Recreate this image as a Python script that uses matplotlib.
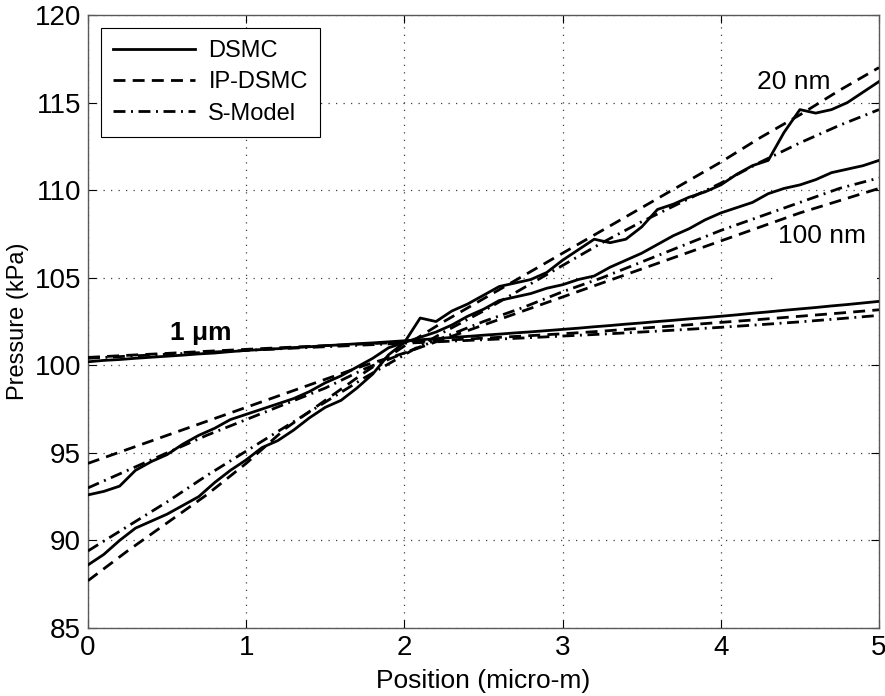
"""
Pressure along the channel: DSMC vs IP-DSMC vs S-Model for three channel heights.
"""
import matplotlib
matplotlib.use("Agg")
import matplotlib.pyplot as plt
import numpy as np
from matplotlib.patches import Rectangle

plt.rcParams['font.family'] = ['Liberation Sans', 'DejaVu Sans']

# DSMC profiles sampled every 0.1 micro-m
x_dsmc = np.linspace(0, 5, 51)
dsmc_20nm = [88.6, 89.2, 90.0, 90.7, 91.1, 91.5, 92.0, 92.5, 93.3, 94.0,
             94.6, 95.3, 95.7, 96.3, 97.0, 97.6, 98.0, 98.7, 99.5, 100.6,
             101.3, 102.7, 102.5, 103.1, 103.5, 104.0, 104.5, 104.7, 104.9, 105.3,
             106.0, 106.6, 107.2, 107.0, 107.2, 107.9, 108.9, 109.2, 109.6, 109.9,
             110.3, 110.9, 111.4, 111.7, 113.3, 114.6, 114.4, 114.6, 115.0, 115.6,
             116.2]
dsmc_100nm = [92.6, 92.8, 93.1, 94.0, 94.5, 94.9, 95.5, 96.0, 96.4, 96.9,
              97.2, 97.5, 97.8, 98.1, 98.5, 99.0, 99.4, 99.9, 100.4, 101.0,
              101.3, 101.6, 101.9, 102.3, 102.8, 103.2, 103.7, 103.9, 104.1, 104.4,
              104.6, 104.9, 105.1, 105.6, 106.0, 106.4, 106.9, 107.4, 107.8, 108.3,
              108.7, 109.0, 109.3, 109.8, 110.1, 110.3, 110.6, 111.0, 111.2, 111.4,
              111.7]
dsmc_1um = [100.20, 100.28, 100.33, 100.40, 100.46, 100.52, 100.58, 100.65, 100.70, 100.78,
            100.85, 100.90, 100.95, 101.01, 101.06, 101.12, 101.17, 101.23, 101.28, 101.34,
            101.40, 101.46, 101.52, 101.59, 101.65, 101.72, 101.78, 101.85, 101.91, 101.98,
            102.05, 102.12, 102.20, 102.27, 102.35, 102.42, 102.50, 102.57, 102.65, 102.72,
            102.80, 102.88, 102.97, 103.05, 103.14, 103.22, 103.30, 103.39, 103.47, 103.56,
            103.65]

# model profiles sampled every 0.25 micro-m
x_model = np.linspace(0, 5, 21)
ip_20nm = [87.7, 89.4, 91.0, 92.6, 94.4, 96.4, 98.0, 99.6, 101.1, 102.5,
           103.8, 105.1, 106.4, 107.7, 109.0, 110.3, 111.6, 113.0, 114.3, 115.7,
           117.0]
ip_100nm = [94.4, 95.2, 96.0, 96.8, 97.6, 98.4, 99.2, 100.0, 100.7, 101.5,
            102.3, 103.1, 103.9, 104.7, 105.5, 106.3, 107.1, 107.9, 108.7, 109.4,
            110.1]
ip_1um = [100.45, 100.57, 100.68, 100.80, 100.91, 101.02, 101.12, 101.22, 101.32, 101.43,
          101.55, 101.67, 101.80, 101.95, 102.12, 102.28, 102.45, 102.62, 102.80, 102.98,
          103.17]
s_20nm = [89.4, 90.8, 92.2, 93.7, 95.1, 96.5, 97.9, 99.3, 100.6, 101.9,
          103.1, 104.4, 105.7, 107.0, 108.2, 109.3, 110.4, 111.6, 112.7, 113.7,
          114.6]
s_100nm = [93.0, 94.0, 95.0, 96.0, 96.9, 97.8, 98.7, 99.8, 100.7, 101.6,
           102.5, 103.3, 104.2, 105.0, 105.9, 106.8, 107.7, 108.5, 109.3, 110.1,
           110.7]
s_1um = [100.40, 100.52, 100.63, 100.74, 100.85, 100.96, 101.06, 101.16, 101.26, 101.36,
         101.46, 101.56, 101.67, 101.78, 101.90, 102.03, 102.17, 102.32, 102.48, 102.66,
         102.85]

labels = ['DSMC', 'IP-DSMC', 'S-Model']
x_ticks = [0, 1, 2, 3, 4, 5]
y_ticks = [85, 90, 95, 100, 105, 110, 115, 120]

lw = 2.0
dash = (0, (4.3, 2.6))
dashdot = (0, (4.3, 2.0, 0.7, 2.0))

fig = plt.figure(figsize=(8.85, 6.96), dpi=100)
ax = fig.add_axes([0.0994, 0.0977, 0.8938, 0.8807])

# white patch below the "100 nm" note hides part of the grid
ax.add_patch(Rectangle((4.36, 104.2), 0.63, 2.7, facecolor='white',
                       edgecolor='none', zorder=1.5))

h1, = ax.plot(x_dsmc, dsmc_20nm, color='black', lw=lw, ls='-', zorder=3)
ax.plot(x_dsmc, dsmc_100nm, color='black', lw=lw, ls='-', zorder=3)
ax.plot(x_dsmc, dsmc_1um, color='black', lw=lw, ls='-', zorder=3)
h2, = ax.plot(x_model, ip_20nm, color='black', lw=lw, ls=dash, zorder=3)
ax.plot(x_model, ip_100nm, color='black', lw=lw, ls=dash, zorder=3)
ax.plot(x_model, ip_1um, color='black', lw=lw, ls=dash, zorder=3)
h3, = ax.plot(x_model, s_20nm, color='black', lw=lw, ls=dashdot, zorder=3)
ax.plot(x_model, s_100nm, color='black', lw=lw, ls=dashdot, zorder=3)
ax.plot(x_model, s_1um, color='black', lw=lw, ls=dashdot, zorder=3)

ax.set_xlim(0, 5)
ax.set_ylim(85, 120)
ax.set_xticks(x_ticks)
ax.set_yticks(y_ticks)
ax.tick_params(direction='in', length=6, width=0.8, top=True, right=True,
               labelsize=20, pad=5, colors='black')
ax.grid(True, color='0.25', linestyle=(0, (1, 5)), linewidth=0.9)
ax.set_axisbelow(True)
for s in ax.spines.values():
    s.set_color('0.35')
    s.set_linewidth(1.0)

ax.set_xlabel('Position (micro-m)', fontsize=19, labelpad=6)
ax.set_ylabel('Pressure (kPa)', fontsize=17, labelpad=4)

ax.text(4.23, 116.2, '20 nm', fontsize=19, va='center', ha='left', zorder=4)
ax.text(4.36, 107.4, '100 nm', fontsize=19, va='center', ha='left', zorder=4)
ax.text(0.52, 101.85, '1 \u03bcm', fontsize=19, fontweight='bold',
        va='center', ha='left', zorder=4)

leg = ax.legend([h1, h2, h3], labels, loc='upper left', fontsize=17,
                handlelength=3.5, handletextpad=0.55, labelspacing=0.4,
                borderaxespad=0.55, borderpad=0.5, fancybox=False,
                framealpha=1, edgecolor='black')
leg.get_frame().set_linewidth(0.8)

fig.savefig('out.png', dpi=100)
